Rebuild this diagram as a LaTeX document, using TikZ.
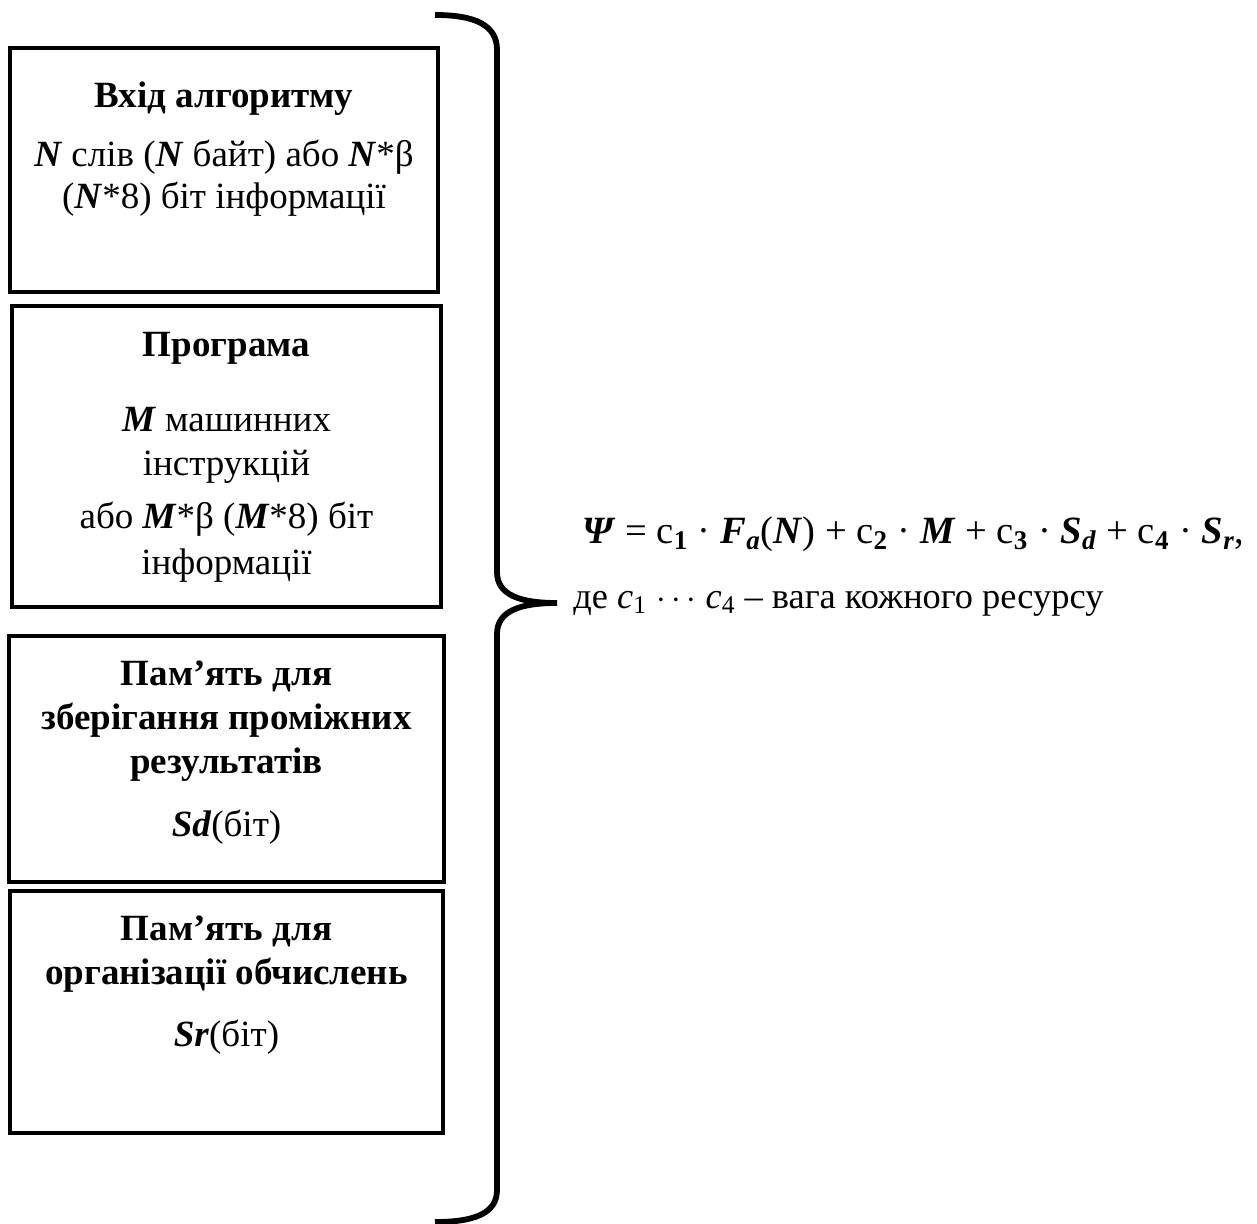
\documentclass[tikz,border=0pt]{standalone}
\usepackage{fontspec}
\setmainfont{Liberation Serif}
\usetikzlibrary{positioning}

% bold italic variable
\newcommand{\bv}[1]{\textbf{\textit{#1}}}

\begin{document}
\begin{tikzpicture}[x=0.5pt,y=-0.5pt,
  boxframe/.style={draw, line width=2.2pt, inner sep=0pt, outer sep=0pt},
  txt/.style={anchor=base, inner sep=0pt, font=\fontsize{18.5}{22}\selectfont},
  formula/.style={anchor=base west, inner sep=0pt, font=\fontsize{19.3}{23}\selectfont},
  bracepen/.style={line width=2.9pt, line cap=butt}]
\useasboundingbox (0,0) rectangle (1257,1224);

% four resource boxes
\node[boxframe, minimum width=214pt,   minimum height=122pt]   (inbox)  at (224,170)    {};
\node[boxframe, minimum width=214.5pt, minimum height=150.5pt] (prbox)  at (226.5,456.5) {};
\node[boxframe, minimum width=217.5pt, minimum height=123pt]   (sdbox)  at (226.5,759)  {};
\node[boxframe, minimum width=216.5pt, minimum height=121pt]   (srbox)  at (226.5,1012) {};

% input of the algorithm
\node[txt] (in1) at (224,108) {\textbf{Вхід алгоритму}};
\node[txt] (in2) at (224,167) {\bv{N} слів (\bv{N} байт) або \bv{N}*β};
\node[txt] (in3) at (224,209) {(\bv{N}*8) біт інформації};

% program
\node[txt] (pr1) at (226.5,357) {\textbf{Програма}};
\node[txt] (pr2) at (226.5,432) {\bv{M} машинних};
\node[txt] (pr3) at (226.5,475) {інструкцій};
\node[txt] (pr4) at (226.5,528) {або \bv{M}*β (\bv{M}*8) біт};
\node[txt] (pr5) at (226.5,574) {інформації};

% memory for intermediate results
\node[txt] (sd1) at (226.5,685) {\textbf{Пам’ять для}};
\node[txt] (sd2) at (226.5,729) {\textbf{зберігання проміжних}};
\node[txt] (sd3) at (226.5,773) {\textbf{результатів}};
\node[txt] (sd4) at (226.5,836) {\bv{Sd}(біт)};

% memory for computations
\node[txt] (sr1) at (226.5,940) {\textbf{Пам’ять для}};
\node[txt] (sr2) at (226.5,984) {\textbf{організації обчислень}};
\node[txt] (sr3) at (226.5,1046) {\bv{Sr}(біт)};

% right curly brace
\coordinate (btop) at (435,15);
\coordinate (btip) at (557,603);
\coordinate (bbot) at (435,1222);
\draw[bracepen] (btop) .. controls (475,15) and (497,25) .. (497,50)
  -- (497,572) .. controls (497,595) and (520,603) .. (btip)
  .. controls (520,603) and (497,611) .. (497,634)
  -- (497,1190) .. controls (497,1213) and (475,1222) .. (bbot);

% weighted resource sum
\node[formula] (psi) at (582,543) {\bv{Ψ} = с\textsubscript{\textbf{1}} · \bv{F}\textsubscript{\bv{a}}(\bv{N}) + с\textsubscript{\textbf{2}} · \bv{M} + с\textsubscript{\textbf{3}} · \bv{S}\textsubscript{\bv{d}} + с\textsubscript{\textbf{4}} · \bv{S}\textsubscript{\bv{r}},};
\node[formula, font=\fontsize{18.2}{22}\selectfont] (note) at (573,608) {де \textit{c}\textsubscript{1} $\cdots$ \textit{c}\textsubscript{4} – вага кожного ресурсу};
\end{tikzpicture}
\end{document}
